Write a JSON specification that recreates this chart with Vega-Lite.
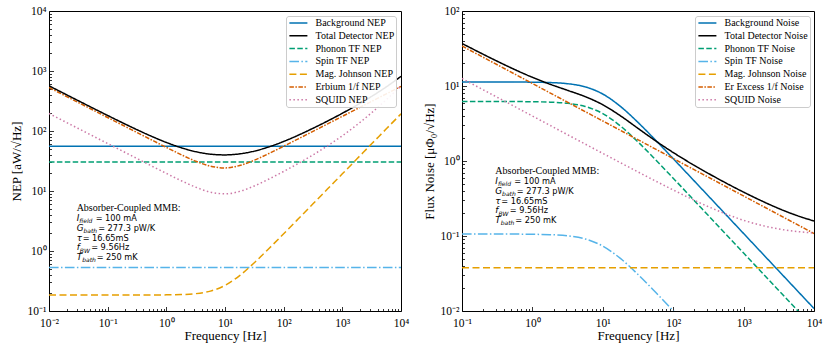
{
  "$schema": "https://vega.github.io/schema/vega-lite/v6.json",
  "padding": {"left": 9, "top": 4, "right": 5, "bottom": 2},
  "spacing": 61,
  "bounds": "flush",
  "config": {
    "view": {"stroke": "black", "strokeWidth": 1},
    "font": "Liberation Serif",
    "text": {"align": "left", "baseline": "alphabetic", "color": "black", "font": "DejaVu Sans", "fontSize": 8.2},
    "axis": {"domain": false, "grid": false, "labelFont": "Liberation Serif", "labelFontSize": 11.5, "titleFont": "Liberation Serif", "titleFontSize": 13, "titleFontWeight": "normal", "tickColor": "black", "labelColor": "black", "titleColor": "black", "labelFlush": false, "labelOverlap": false, "tickSize": -4.5, "labelPadding": 7.5, "tickWidth": 0.8},
    "axisX": {"titlePadding": 1, "labelPadding": 10.5},
    "axisY": {"titlePadding": 4}
  },
  "datasets": {
    "nep": [
      {"s": "Background NEP", "f": 0.01, "v": 55.5}, {"s": "Background NEP", "f": 10000, "v": 55.5},
      {"s": "Phonon TF NEP", "f": 0.01, "v": 30.45}, {"s": "Phonon TF NEP", "f": 10000, "v": 30.45},
      {"s": "Spin TF NEP", "f": 0.01, "v": 0.53}, {"s": "Spin TF NEP", "f": 10000, "v": 0.53},
      {"s": "Mag. Johnson NEP", "f": 0.01, "v": 0.185}, {"s": "Mag. Johnson NEP", "f": 0.1, "v": 0.185}, {"s": "Mag. Johnson NEP", "f": 0.5623, "v": 0.185}, {"s": "Mag. Johnson NEP", "f": 1, "v": 0.1857}, {"s": "Mag. Johnson NEP", "f": 1.778, "v": 0.1879}, {"s": "Mag. Johnson NEP", "f": 3.162, "v": 0.1945}, {"s": "Mag. Johnson NEP", "f": 5.623, "v": 0.2143}, {"s": "Mag. Johnson NEP", "f": 10, "v": 0.2673}, {"s": "Mag. Johnson NEP", "f": 17.78, "v": 0.39}, {"s": "Mag. Johnson NEP", "f": 31.62, "v": 0.6382}, {"s": "Mag. Johnson NEP", "f": 56.23, "v": 1.102}, {"s": "Mag. Johnson NEP", "f": 100, "v": 1.941}, {"s": "Mag. Johnson NEP", "f": 177.8, "v": 3.44}, {"s": "Mag. Johnson NEP", "f": 316.2, "v": 6.114}, {"s": "Mag. Johnson NEP", "f": 562.3, "v": 10.87}, {"s": "Mag. Johnson NEP", "f": 1000, "v": 19.32}, {"s": "Mag. Johnson NEP", "f": 1778, "v": 34.35}, {"s": "Mag. Johnson NEP", "f": 3162, "v": 61.1}, {"s": "Mag. Johnson NEP", "f": 5623, "v": 108.6}, {"s": "Mag. Johnson NEP", "f": 10000, "v": 193.2},
      {"s": "Erbium 1/f NEP", "f": 0.01, "v": 530.5}, {"s": "Erbium 1/f NEP", "f": 0.01778, "v": 397.8}, {"s": "Erbium 1/f NEP", "f": 0.03162, "v": 298.3}, {"s": "Erbium 1/f NEP", "f": 0.05623, "v": 223.7}, {"s": "Erbium 1/f NEP", "f": 0.1, "v": 167.7}, {"s": "Erbium 1/f NEP", "f": 0.1778, "v": 125.8}, {"s": "Erbium 1/f NEP", "f": 0.3162, "v": 94.4}, {"s": "Erbium 1/f NEP", "f": 0.5623, "v": 70.85}, {"s": "Erbium 1/f NEP", "f": 1, "v": 53.34}, {"s": "Erbium 1/f NEP", "f": 1.778, "v": 40.47}, {"s": "Erbium 1/f NEP", "f": 3.162, "v": 31.42}, {"s": "Erbium 1/f NEP", "f": 5.623, "v": 25.95}, {"s": "Erbium 1/f NEP", "f": 10, "v": 24.27}, {"s": "Erbium 1/f NEP", "f": 17.78, "v": 26.57}, {"s": "Erbium 1/f NEP", "f": 31.62, "v": 32.6}, {"s": "Erbium 1/f NEP", "f": 56.23, "v": 42.2}, {"s": "Erbium 1/f NEP", "f": 100, "v": 55.75}, {"s": "Erbium 1/f NEP", "f": 177.8, "v": 74.12}, {"s": "Erbium 1/f NEP", "f": 316.2, "v": 98.75}, {"s": "Erbium 1/f NEP", "f": 562.3, "v": 131.6}, {"s": "Erbium 1/f NEP", "f": 1000, "v": 175.5}, {"s": "Erbium 1/f NEP", "f": 1778, "v": 234.0}, {"s": "Erbium 1/f NEP", "f": 3162, "v": 312.1}, {"s": "Erbium 1/f NEP", "f": 5623, "v": 416.1}, {"s": "Erbium 1/f NEP", "f": 10000, "v": 554.9},
      {"s": "SQUID NEP", "f": 0.01, "v": 195.5}, {"s": "SQUID NEP", "f": 0.01778, "v": 146.6}, {"s": "SQUID NEP", "f": 0.03162, "v": 109.9}, {"s": "SQUID NEP", "f": 0.05623, "v": 82.42}, {"s": "SQUID NEP", "f": 0.1, "v": 61.82}, {"s": "SQUID NEP", "f": 0.1778, "v": 46.36}, {"s": "SQUID NEP", "f": 0.3162, "v": 34.78}, {"s": "SQUID NEP", "f": 0.5623, "v": 26.12}, {"s": "SQUID NEP", "f": 1, "v": 19.66}, {"s": "SQUID NEP", "f": 1.778, "v": 14.92}, {"s": "SQUID NEP", "f": 3.162, "v": 11.59}, {"s": "SQUID NEP", "f": 5.623, "v": 9.58}, {"s": "SQUID NEP", "f": 10, "v": 8.975}, {"s": "SQUID NEP", "f": 17.78, "v": 9.848}, {"s": "SQUID NEP", "f": 31.62, "v": 12.14}, {"s": "SQUID NEP", "f": 56.23, "v": 15.84}, {"s": "SQUID NEP", "f": 100, "v": 21.21}, {"s": "SQUID NEP", "f": 177.8, "v": 28.86}, {"s": "SQUID NEP", "f": 316.2, "v": 39.98}, {"s": "SQUID NEP", "f": 562.3, "v": 56.76}, {"s": "SQUID NEP", "f": 1000, "v": 83.24}, {"s": "SQUID NEP", "f": 1778, "v": 127.0}, {"s": "SQUID NEP", "f": 3162, "v": 201.6}, {"s": "SQUID NEP", "f": 5623, "v": 332.3}, {"s": "SQUID NEP", "f": 10000, "v": 562.6},
      {"s": "Total Detector NEP", "f": 0.01, "v": 566.2}, {"s": "Total Detector NEP", "f": 0.01778, "v": 425.1}, {"s": "Total Detector NEP", "f": 0.03162, "v": 319.4}, {"s": "Total Detector NEP", "f": 0.05623, "v": 240.3}, {"s": "Total Detector NEP", "f": 0.1, "v": 181.4}, {"s": "Total Detector NEP", "f": 0.1778, "v": 137.5}, {"s": "Total Detector NEP", "f": 0.3162, "v": 105.1}, {"s": "Total Detector NEP", "f": 0.5623, "v": 81.43}, {"s": "Total Detector NEP", "f": 1, "v": 64.5}, {"s": "Total Detector NEP", "f": 1.778, "v": 52.81}, {"s": "Total Detector NEP", "f": 3.162, "v": 45.27}, {"s": "Total Detector NEP", "f": 5.623, "v": 41.15}, {"s": "Total Detector NEP", "f": 10, "v": 39.96}, {"s": "Total Detector NEP", "f": 17.78, "v": 41.6}, {"s": "Total Detector NEP", "f": 31.62, "v": 46.23}, {"s": "Total Detector NEP", "f": 56.23, "v": 54.42}, {"s": "Total Detector NEP", "f": 100, "v": 67.0}, {"s": "Total Detector NEP", "f": 177.8, "v": 85.24}, {"s": "Total Detector NEP", "f": 316.2, "v": 111.0}, {"s": "Total Detector NEP", "f": 562.3, "v": 146.9}, {"s": "Total Detector NEP", "f": 1000, "v": 197.5}, {"s": "Total Detector NEP", "f": 1778, "v": 270.2}, {"s": "Total Detector NEP", "f": 3162, "v": 377.8}, {"s": "Total Detector NEP", "f": 5623, "v": 544.3}, {"s": "Total Detector NEP", "f": 10000, "v": 814.4}
    ],
    "flux": [
      {"s": "Background Noise", "f": 0.1, "v": 11.3}, {"s": "Background Noise", "f": 0.5623, "v": 11.3}, {"s": "Background Noise", "f": 1, "v": 11.24}, {"s": "Background Noise", "f": 1.778, "v": 11.11}, {"s": "Background Noise", "f": 3.162, "v": 10.73}, {"s": "Background Noise", "f": 5.623, "v": 9.74}, {"s": "Background Noise", "f": 10, "v": 7.81}, {"s": "Background Noise", "f": 17.78, "v": 5.35}, {"s": "Background Noise", "f": 31.62, "v": 3.27}, {"s": "Background Noise", "f": 56.23, "v": 1.894}, {"s": "Background Noise", "f": 100, "v": 1.075}, {"s": "Background Noise", "f": 177.8, "v": 0.6066}, {"s": "Background Noise", "f": 316.2, "v": 0.3414}, {"s": "Background Noise", "f": 562.3, "v": 0.1921}, {"s": "Background Noise", "f": 1000, "v": 0.108}, {"s": "Background Noise", "f": 10000, "v": 0.0108},
      {"s": "Phonon TF Noise", "f": 0.1, "v": 6.2}, {"s": "Phonon TF Noise", "f": 0.5623, "v": 6.2}, {"s": "Phonon TF Noise", "f": 1, "v": 6.166}, {"s": "Phonon TF Noise", "f": 1.778, "v": 6.095}, {"s": "Phonon TF Noise", "f": 3.162, "v": 5.886}, {"s": "Phonon TF Noise", "f": 5.623, "v": 5.344}, {"s": "Phonon TF Noise", "f": 10, "v": 4.284}, {"s": "Phonon TF Noise", "f": 17.78, "v": 2.936}, {"s": "Phonon TF Noise", "f": 31.62, "v": 1.794}, {"s": "Phonon TF Noise", "f": 56.23, "v": 1.039}, {"s": "Phonon TF Noise", "f": 100, "v": 0.59}, {"s": "Phonon TF Noise", "f": 177.8, "v": 0.3329}, {"s": "Phonon TF Noise", "f": 316.2, "v": 0.1873}, {"s": "Phonon TF Noise", "f": 562.3, "v": 0.1054}, {"s": "Phonon TF Noise", "f": 1000, "v": 0.05927}, {"s": "Phonon TF Noise", "f": 5623, "v": 0.01054}, {"s": "Phonon TF Noise", "f": 10000, "v": 0.005927},
      {"s": "Spin TF Noise", "f": 0.1, "v": 0.106}, {"s": "Spin TF Noise", "f": 0.5623, "v": 0.106}, {"s": "Spin TF Noise", "f": 1, "v": 0.1054}, {"s": "Spin TF Noise", "f": 1.778, "v": 0.1042}, {"s": "Spin TF Noise", "f": 3.162, "v": 0.1006}, {"s": "Spin TF Noise", "f": 5.623, "v": 0.09136}, {"s": "Spin TF Noise", "f": 10, "v": 0.07325}, {"s": "Spin TF Noise", "f": 17.78, "v": 0.0502}, {"s": "Spin TF Noise", "f": 31.62, "v": 0.03068}, {"s": "Spin TF Noise", "f": 56.23, "v": 0.01777}, {"s": "Spin TF Noise", "f": 100, "v": 0.01009}, {"s": "Spin TF Noise", "f": 177.8, "v": 0.00569},
      {"s": "Mag. Johnson Noise", "f": 0.1, "v": 0.0376}, {"s": "Mag. Johnson Noise", "f": 10000, "v": 0.0376},
      {"s": "Er Excess 1/f Noise", "f": 0.1, "v": 34.15}, {"s": "Er Excess 1/f Noise", "f": 10000, "v": 0.108},
      {"s": "SQUID Noise", "f": 0.1, "v": 12.59}, {"s": "SQUID Noise", "f": 0.1778, "v": 9.439}, {"s": "SQUID Noise", "f": 0.3162, "v": 7.078}, {"s": "SQUID Noise", "f": 0.5623, "v": 5.308}, {"s": "SQUID Noise", "f": 1, "v": 3.981}, {"s": "SQUID Noise", "f": 1.778, "v": 2.987}, {"s": "SQUID Noise", "f": 3.162, "v": 2.24}, {"s": "SQUID Noise", "f": 5.623, "v": 1.681}, {"s": "SQUID Noise", "f": 10, "v": 1.263}, {"s": "SQUID Noise", "f": 17.78, "v": 0.9494}, {"s": "SQUID Noise", "f": 31.62, "v": 0.7151}, {"s": "SQUID Noise", "f": 56.23, "v": 0.5405}, {"s": "SQUID Noise", "f": 100, "v": 0.4109}, {"s": "SQUID Noise", "f": 177.8, "v": 0.3154}, {"s": "SQUID Noise", "f": 316.2, "v": 0.2459}, {"s": "SQUID Noise", "f": 562.3, "v": 0.1964}, {"s": "SQUID Noise", "f": 1000, "v": 0.162}, {"s": "SQUID Noise", "f": 1778, "v": 0.139}, {"s": "SQUID Noise", "f": 3162, "v": 0.1241}, {"s": "SQUID Noise", "f": 5623, "v": 0.115}, {"s": "SQUID Noise", "f": 10000, "v": 0.1095},
      {"s": "Total Detector Noise", "f": 0.1, "v": 36.92}, {"s": "Total Detector Noise", "f": 0.1778, "v": 27.99}, {"s": "Total Detector Noise", "f": 0.3162, "v": 21.39}, {"s": "Total Detector Noise", "f": 0.5623, "v": 16.55}, {"s": "Total Detector Noise", "f": 1, "v": 13.06}, {"s": "Total Detector Noise", "f": 1.778, "v": 10.57}, {"s": "Total Detector Noise", "f": 3.162, "v": 8.749}, {"s": "Total Detector Noise", "f": 5.623, "v": 7.221}, {"s": "Total Detector Noise", "f": 10, "v": 5.622}, {"s": "Total Detector Noise", "f": 17.78, "v": 4.01}, {"s": "Total Detector Noise", "f": 31.62, "v": 2.724}, {"s": "Total Detector Noise", "f": 56.23, "v": 1.857}, {"s": "Total Detector Noise", "f": 100, "v": 1.298}, {"s": "Total Detector Noise", "f": 177.8, "v": 0.9316}, {"s": "Total Detector Noise", "f": 316.2, "v": 0.6825}, {"s": "Total Detector Noise", "f": 562.3, "v": 0.5084}, {"s": "Total Detector Noise", "f": 1000, "v": 0.3844}, {"s": "Total Detector Noise", "f": 1778, "v": 0.2957}, {"s": "Total Detector Noise", "f": 3162, "v": 0.2325}, {"s": "Total Detector Noise", "f": 5623, "v": 0.1884}, {"s": "Total Detector Noise", "f": 10000, "v": 0.1585}
    ]
  },
  "hconcat": [
    {
      "width": 352, "height": 300,
      "layer": [
        {
          "data": {"name": "nep"},
          "mark": {"type": "line", "clip": true, "strokeWidth": 1.5, "interpolate": "monotone"},
          "encoding": {
            "x": {"field": "f", "type": "quantitative", "scale": {"type": "log", "domain": [0.01, 10000], "nice": false},
                  "axis": {"orient": "bottom", "title": "Frequency [Hz]", "values": [0.01, 0.1, 1, 10, 100, 1000, 10000], "labelExpr": "'10' + ['⁻²','⁻¹','⁰','¹','²','³','⁴'][round(log(datum.value)/LN10)+2]"}},
            "y": {"field": "v", "type": "quantitative", "scale": {"type": "log", "domain": [0.1, 10000], "nice": false},
                  "axis": {"orient": "left", "title": "NEP [aW/√Hz]", "values": [0.1, 1, 10, 100, 1000, 10000], "labelExpr": "'10' + ['⁻²','⁻¹','⁰','¹','²','³','⁴'][round(log(datum.value)/LN10)+2]"}},
            "color": {"field": "s", "type": "nominal",
                      "scale": {"domain": ["Background NEP", "Total Detector NEP", "Phonon TF NEP", "Spin TF NEP", "Mag. Johnson NEP", "Erbium 1/f NEP", "SQUID NEP"],
                                "range": ["#0072B2", "#000000", "#009E73", "#56B4E9", "#E69F00", "#D55E00", "#CC79A7"]},
                      "legend": {"title": null, "orient": "top-right", "offset": 5, "padding": 1.5, "fillColor": "rgba(255,255,255,0.9)", "strokeColor": "#cccccc", "cornerRadius": 2.5, "labelFont": "Liberation Serif", "labelFontSize": 10, "labelColor": "black", "symbolType": "M-0.8,0L3.2,0", "symbolSize": 81, "symbolStrokeWidth": 1.5, "rowPadding": 1.8, "labelOffset": 17, "labelLimit": 300}},
            "strokeDash": {"field": "s", "type": "nominal",
                           "scale": {"domain": ["Background NEP", "Total Detector NEP", "Phonon TF NEP", "Spin TF NEP", "Mag. Johnson NEP", "Erbium 1/f NEP", "SQUID NEP"],
                                     "range": [[1, 0], [1, 0], [5.5, 2.4], [9.6, 2.4, 1.5, 2.4], [7, 3.5], [4.5, 1.5, 1.5, 1.5], [1.5, 2.5]]}}
          }
        },
        {
          "data": {"values": [{}]},
          "mark": {"type": "text", "font": "Liberation Serif", "fontSize": 10},
          "encoding": {
            "x": {"datum": 0.0296, "type": "quantitative", "axis": {"orient": "bottom", "values": [0.02,0.03,0.04,0.05,0.06,0.07,0.08,0.09,0.2,0.3,0.4,0.5,0.6,0.7,0.8,0.9,2,3,4,5,6,7,8,9,20,30,40,50,60,70,80,90,200,300,400,500,600,700,800,900,2000,3000,4000,5000,6000,7000,8000,9000], "labels": false, "tickSize": -2.5, "title": null}},
            "y": {"datum": 4.61, "type": "quantitative", "axis": {"orient": "left", "values": [0.2,0.3,0.4,0.5,0.6,0.7,0.8,0.9,2,3,4,5,6,7,8,9,20,30,40,50,60,70,80,90,200,300,400,500,600,700,800,900,2000,3000,4000,5000,6000,7000,8000,9000], "labels": false, "tickSize": -2.5, "title": null}},
            "text": {"value": "Absorber-Coupled MMB:"}
          }
        },
        {
          "data": {"values": [{}]},
          "encoding": {
            "x": {"datum": 0.0296, "type": "quantitative", "axis": null},
            "y": {"datum": 4.61, "type": "quantitative", "axis": null}
          },
          "layer": [
            {"mark": {"type": "text", "fontStyle": "italic", "fontSize": 8.8, "dy": 9.8}, "encoding": {"text": {"value": "I"}}},
            {"mark": {"type": "text", "fontStyle": "italic", "fontSize": 6, "dx": 2.7, "dy": 12.1}, "encoding": {"text": {"value": "field"}}},
            {"mark": {"type": "text", "dx": 19, "dy": 9.8}, "encoding": {"text": {"value": "= 100 mA"}}},
            {"mark": {"type": "text", "fontStyle": "italic", "fontSize": 8.8, "dy": 19.6}, "encoding": {"text": {"value": "G"}}},
            {"mark": {"type": "text", "fontStyle": "italic", "fontSize": 6, "dx": 6.8, "dy": 21.9}, "encoding": {"text": {"value": "bath"}}},
            {"mark": {"type": "text", "dx": 21.5, "dy": 19.6}, "encoding": {"text": {"value": "= 277.3 pW/K"}}},
            {"mark": {"type": "text", "fontStyle": "italic", "fontSize": 8.8, "dy": 29.4}, "encoding": {"text": {"value": "τ"}}},
            {"mark": {"type": "text", "dx": 6, "dy": 29.4}, "encoding": {"text": {"value": "= 16.65mS"}}},
            {"mark": {"type": "text", "fontStyle": "italic", "fontSize": 8.8, "dy": 39.2}, "encoding": {"text": {"value": "f"}}},
            {"mark": {"type": "text", "fontStyle": "italic", "fontSize": 6, "dx": 3.2, "dy": 41.5}, "encoding": {"text": {"value": "BW"}}},
            {"mark": {"type": "text", "dx": 14.5, "dy": 39.2}, "encoding": {"text": {"value": "= 9.56Hz"}}},
            {"mark": {"type": "text", "fontStyle": "italic", "fontSize": 8.8, "dy": 49}, "encoding": {"text": {"value": "T"}}},
            {"mark": {"type": "text", "fontStyle": "italic", "fontSize": 6, "dx": 5.5, "dy": 51.3}, "encoding": {"text": {"value": "bath"}}},
            {"mark": {"type": "text", "dx": 20, "dy": 49}, "encoding": {"text": {"value": "= 250 mK"}}}
          ]
        }
      ],
      "resolve": {"axis": {"x": "independent", "y": "independent"}}
    },
    {
      "width": 352, "height": 300,
      "layer": [
        {
          "data": {"name": "flux"},
          "mark": {"type": "line", "clip": true, "strokeWidth": 1.5, "interpolate": "monotone"},
          "encoding": {
            "x": {"field": "f", "type": "quantitative", "scale": {"type": "log", "domain": [0.1, 10000], "nice": false},
                  "axis": {"orient": "bottom", "title": "Frequency [Hz]", "values": [0.1, 1, 10, 100, 1000, 10000], "labelExpr": "'10' + ['⁻²','⁻¹','⁰','¹','²','³','⁴'][round(log(datum.value)/LN10)+2]"}},
            "y": {"field": "v", "type": "quantitative", "scale": {"type": "log", "domain": [0.01, 100], "nice": false},
                  "axis": {"orient": "left", "title": "Flux Noise [μΦ₀/√Hz]", "values": [0.01, 0.1, 1, 10, 100], "labelExpr": "'10' + ['⁻²','⁻¹','⁰','¹','²','³','⁴'][round(log(datum.value)/LN10)+2]"}},
            "color": {"field": "s", "type": "nominal",
                      "scale": {"domain": ["Background Noise", "Total Detector Noise", "Phonon TF Noise", "Spin TF Noise", "Mag. Johnson Noise", "Er Excess 1/f Noise", "SQUID Noise"],
                                "range": ["#0072B2", "#000000", "#009E73", "#56B4E9", "#E69F00", "#D55E00", "#CC79A7"]},
                      "legend": {"title": null, "orient": "top-right", "offset": 4.5, "padding": 1.5, "fillColor": "rgba(255,255,255,0.9)", "strokeColor": "#cccccc", "cornerRadius": 2.5, "labelFont": "Liberation Serif", "labelFontSize": 10, "labelColor": "black", "symbolType": "M-0.8,0L3.2,0", "symbolSize": 81, "symbolStrokeWidth": 1.5, "rowPadding": 1.8, "labelOffset": 17, "labelLimit": 300}},
            "strokeDash": {"field": "s", "type": "nominal",
                           "scale": {"domain": ["Background Noise", "Total Detector Noise", "Phonon TF Noise", "Spin TF Noise", "Mag. Johnson Noise", "Er Excess 1/f Noise", "SQUID Noise"],
                                     "range": [[1, 0], [1, 0], [5.5, 2.4], [9.6, 2.4, 1.5, 2.4], [7, 3.5], [4.5, 1.5, 1.5, 1.5], [1.5, 2.5]]}}
          }
        },
        {
          "data": {"values": [{}]},
          "mark": {"type": "text", "font": "Liberation Serif", "fontSize": 10},
          "encoding": {
            "x": {"datum": 0.297, "type": "quantitative", "axis": {"orient": "bottom", "values": [0.2,0.3,0.4,0.5,0.6,0.7,0.8,0.9,2,3,4,5,6,7,8,9,20,30,40,50,60,70,80,90,200,300,400,500,600,700,800,900,2000,3000,4000,5000,6000,7000,8000,9000], "labels": false, "tickSize": -2.5, "title": null}},
            "y": {"datum": 0.667, "type": "quantitative", "axis": {"orient": "left", "values": [0.02,0.03,0.04,0.05,0.06,0.07,0.08,0.09,0.2,0.3,0.4,0.5,0.6,0.7,0.8,0.9,2,3,4,5,6,7,8,9,20,30,40,50,60,70,80,90], "labels": false, "tickSize": -2.5, "title": null}},
            "text": {"value": "Absorber-Coupled MMB:"}
          }
        },
        {
          "data": {"values": [{}]},
          "encoding": {
            "x": {"datum": 0.297, "type": "quantitative", "axis": null},
            "y": {"datum": 0.667, "type": "quantitative", "axis": null}
          },
          "layer": [
            {"mark": {"type": "text", "fontStyle": "italic", "fontSize": 8.8, "dy": 9.8}, "encoding": {"text": {"value": "I"}}},
            {"mark": {"type": "text", "fontStyle": "italic", "fontSize": 6, "dx": 2.7, "dy": 12.1}, "encoding": {"text": {"value": "field"}}},
            {"mark": {"type": "text", "dx": 19, "dy": 9.8}, "encoding": {"text": {"value": "= 100 mA"}}},
            {"mark": {"type": "text", "fontStyle": "italic", "fontSize": 8.8, "dy": 19.6}, "encoding": {"text": {"value": "G"}}},
            {"mark": {"type": "text", "fontStyle": "italic", "fontSize": 6, "dx": 6.8, "dy": 21.9}, "encoding": {"text": {"value": "bath"}}},
            {"mark": {"type": "text", "dx": 21.5, "dy": 19.6}, "encoding": {"text": {"value": "= 277.3 pW/K"}}},
            {"mark": {"type": "text", "fontStyle": "italic", "fontSize": 8.8, "dy": 29.4}, "encoding": {"text": {"value": "τ"}}},
            {"mark": {"type": "text", "dx": 6, "dy": 29.4}, "encoding": {"text": {"value": "= 16.65mS"}}},
            {"mark": {"type": "text", "fontStyle": "italic", "fontSize": 8.8, "dy": 39.2}, "encoding": {"text": {"value": "f"}}},
            {"mark": {"type": "text", "fontStyle": "italic", "fontSize": 6, "dx": 3.2, "dy": 41.5}, "encoding": {"text": {"value": "BW"}}},
            {"mark": {"type": "text", "dx": 14.5, "dy": 39.2}, "encoding": {"text": {"value": "= 9.56Hz"}}},
            {"mark": {"type": "text", "fontStyle": "italic", "fontSize": 8.8, "dy": 49}, "encoding": {"text": {"value": "T"}}},
            {"mark": {"type": "text", "fontStyle": "italic", "fontSize": 6, "dx": 5.5, "dy": 51.3}, "encoding": {"text": {"value": "bath"}}},
            {"mark": {"type": "text", "dx": 20, "dy": 49}, "encoding": {"text": {"value": "= 250 mK"}}}
          ]
        }
      ],
      "resolve": {"axis": {"x": "independent", "y": "independent"}}
    }
  ],
  "resolve": {"scale": {"color": "independent", "strokeDash": "independent", "x": "independent", "y": "independent"}, "legend": {"color": "independent", "strokeDash": "independent"}}
}
